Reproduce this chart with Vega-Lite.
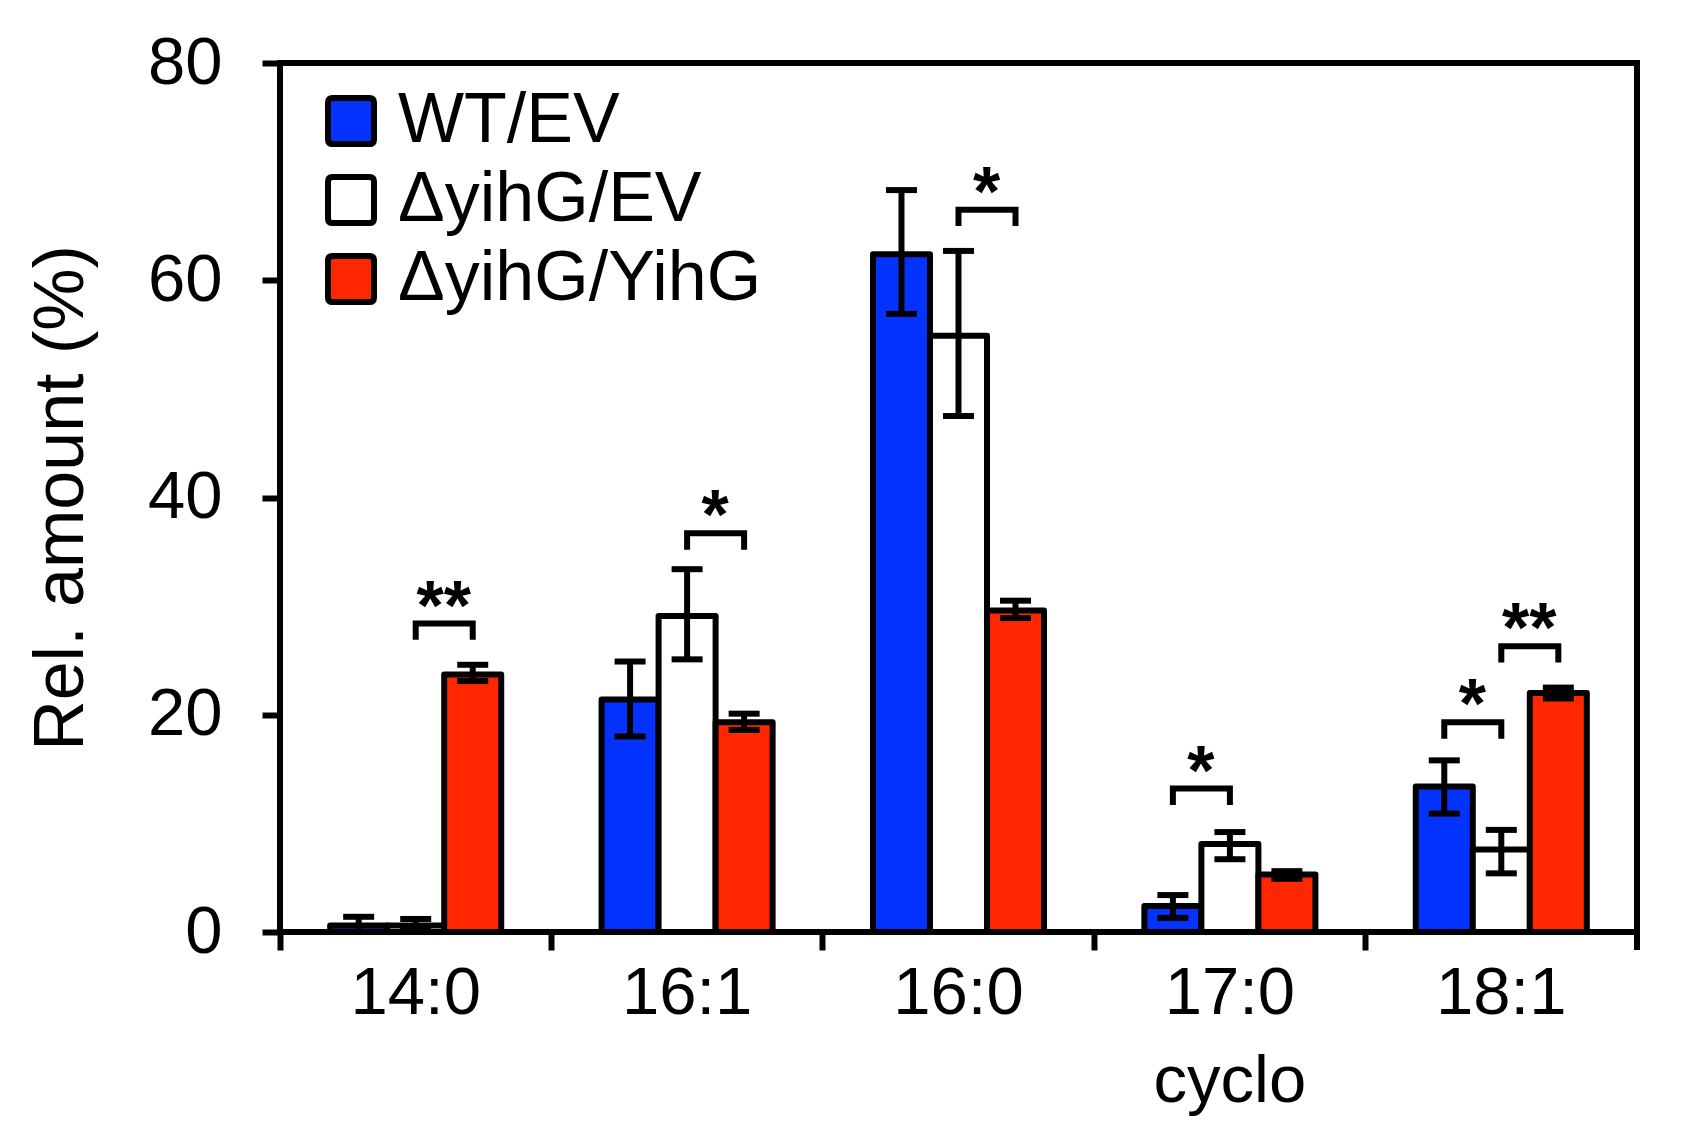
{
  "$schema": "https://vega.github.io/schema/vega-lite/v6.json",
  "width": 1357,
  "height": 869,
  "autosize": {"type": "none"},
  "padding": {"left": 280, "top": 63, "right": 54, "bottom": 211},
  "background": "white",
  "config": {
    "font": "Liberation Sans",
    "view": {"stroke": "black", "strokeWidth": 6},
    "axis": {
      "domain": false,
      "grid": false,
      "tickColor": "black",
      "tickWidth": 6,
      "tickSize": 18,
      "labelColor": "black",
      "labelFont": "Liberation Sans",
      "titleFont": "Liberation Sans",
      "titleColor": "black"
    }
  },
  "datasets": {
    "bars": [
      {"cat": "14:0", "group": "WT/EV", "mean": 0.6, "lo": 0.0, "hi": 1.4},
      {"cat": "14:0", "group": "ΔyihG/EV", "mean": 0.6, "lo": 0.1, "hi": 1.2},
      {"cat": "14:0", "group": "ΔyihG/YihG", "mean": 23.7, "lo": 23.1, "hi": 24.6},
      {"cat": "16:1", "group": "WT/EV", "mean": 21.4, "lo": 18.0, "hi": 24.9},
      {"cat": "16:1", "group": "ΔyihG/EV", "mean": 29.1, "lo": 25.1, "hi": 33.4},
      {"cat": "16:1", "group": "ΔyihG/YihG", "mean": 19.3, "lo": 18.6, "hi": 20.1},
      {"cat": "16:0", "group": "WT/EV", "mean": 62.4, "lo": 56.9, "hi": 68.3},
      {"cat": "16:0", "group": "ΔyihG/EV", "mean": 54.9, "lo": 47.5, "hi": 62.7},
      {"cat": "16:0", "group": "ΔyihG/YihG", "mean": 29.6, "lo": 28.9, "hi": 30.5},
      {"cat": "17:0", "group": "WT/EV", "mean": 2.4, "lo": 1.3, "hi": 3.4},
      {"cat": "17:0", "group": "ΔyihG/EV", "mean": 8.1, "lo": 6.7, "hi": 9.2},
      {"cat": "17:0", "group": "ΔyihG/YihG", "mean": 5.3, "lo": 4.9, "hi": 5.6},
      {"cat": "18:1", "group": "WT/EV", "mean": 13.4, "lo": 10.9, "hi": 15.8},
      {"cat": "18:1", "group": "ΔyihG/EV", "mean": 7.6, "lo": 5.4, "hi": 9.4},
      {"cat": "18:1", "group": "ΔyihG/YihG", "mean": 22.0, "lo": 21.5, "hi": 22.5}
    ],
    "brackets": [
      {"id": "b1", "cat": "14:0", "group": "ΔyihG/EV", "y": 26.9, "ord": 0},
      {"id": "b1", "cat": "14:0", "group": "ΔyihG/EV", "y": 28.4, "ord": 1},
      {"id": "b1", "cat": "14:0", "group": "ΔyihG/YihG", "y": 28.4, "ord": 2},
      {"id": "b1", "cat": "14:0", "group": "ΔyihG/YihG", "y": 26.9, "ord": 3},
      {"id": "b2", "cat": "16:1", "group": "ΔyihG/EV", "y": 35.2, "ord": 0},
      {"id": "b2", "cat": "16:1", "group": "ΔyihG/EV", "y": 36.7, "ord": 1},
      {"id": "b2", "cat": "16:1", "group": "ΔyihG/YihG", "y": 36.7, "ord": 2},
      {"id": "b2", "cat": "16:1", "group": "ΔyihG/YihG", "y": 35.2, "ord": 3},
      {"id": "b3", "cat": "16:0", "group": "ΔyihG/EV", "y": 65.0, "ord": 0},
      {"id": "b3", "cat": "16:0", "group": "ΔyihG/EV", "y": 66.5, "ord": 1},
      {"id": "b3", "cat": "16:0", "group": "ΔyihG/YihG", "y": 66.5, "ord": 2},
      {"id": "b3", "cat": "16:0", "group": "ΔyihG/YihG", "y": 65.0, "ord": 3},
      {"id": "b4", "cat": "17:0", "group": "WT/EV", "y": 11.7, "ord": 0},
      {"id": "b4", "cat": "17:0", "group": "WT/EV", "y": 13.2, "ord": 1},
      {"id": "b4", "cat": "17:0", "group": "ΔyihG/EV", "y": 13.2, "ord": 2},
      {"id": "b4", "cat": "17:0", "group": "ΔyihG/EV", "y": 11.7, "ord": 3},
      {"id": "b5", "cat": "18:1", "group": "WT/EV", "y": 17.8, "ord": 0},
      {"id": "b5", "cat": "18:1", "group": "WT/EV", "y": 19.3, "ord": 1},
      {"id": "b5", "cat": "18:1", "group": "ΔyihG/EV", "y": 19.3, "ord": 2},
      {"id": "b5", "cat": "18:1", "group": "ΔyihG/EV", "y": 17.8, "ord": 3},
      {"id": "b6", "cat": "18:1", "group": "ΔyihG/EV", "y": 24.8, "ord": 0},
      {"id": "b6", "cat": "18:1", "group": "ΔyihG/EV", "y": 26.3, "ord": 1},
      {"id": "b6", "cat": "18:1", "group": "ΔyihG/YihG", "y": 26.3, "ord": 2},
      {"id": "b6", "cat": "18:1", "group": "ΔyihG/YihG", "y": 24.8, "ord": 3}
    ],
    "sig": [
      {"cat": "14:0", "group": "ΔyihG/EV", "y": 28.4, "stars": "**"},
      {"cat": "16:1", "group": "ΔyihG/EV", "y": 36.7, "stars": "*"},
      {"cat": "16:0", "group": "ΔyihG/EV", "y": 66.5, "stars": "*"},
      {"cat": "17:0", "group": "WT/EV", "y": 13.2, "stars": "*"},
      {"cat": "18:1", "group": "WT/EV", "y": 19.3, "stars": "*"},
      {"cat": "18:1", "group": "ΔyihG/EV", "y": 26.3, "stars": "**"}
    ],
    "edge": [
      {"cat": "18:1"}
    ]
  },
  "layer": [
    {
      "data": {"name": "bars"},
      "mark": {"type": "bar", "stroke": "black", "strokeWidth": 6, "strokeJoin": "round"},
      "encoding": {
        "x": {
          "field": "cat", "type": "nominal",
          "scale": {"domain": ["14:0", "16:1", "16:0", "17:0", "18:1"], "paddingInner": 0, "paddingOuter": 0},
          "axis": {
            "title": null,
            "labelAngle": 0,
            "labelFontSize": 67,
            "labelPadding": 10,
            "bandPosition": 0,
            "labelLineHeight": 88,
            "labelExpr": "datum.label == '17:0' ? ['17:0', 'cyclo'] : datum.label"
          }
        },
        "xOffset": {
          "field": "group", "type": "nominal",
          "scale": {"domain": ["WT/EV", "ΔyihG/EV", "ΔyihG/YihG"], "paddingInner": 0, "paddingOuter": 0.88}
        },
        "y": {
          "field": "mean", "type": "quantitative",
          "scale": {"domain": [0, 80], "nice": false},
          "axis": {
            "values": [0, 20, 40, 60, 80],
            "labelFontSize": 67,
            "labelPadding": 40,
            "title": "Rel. amount (%)",
            "titleFontSize": 70,
            "titleFontWeight": "normal",
            "titlePadding": 50
          }
        },
        "fill": {
          "field": "group", "type": "nominal",
          "scale": {"domain": ["WT/EV", "ΔyihG/EV", "ΔyihG/YihG"], "range": ["#0433FF", "#FFFFFF", "#FF2600"]},
          "legend": {
            "title": null,
            "orient": "none",
            "legendX": 36,
            "legendY": 23,
            "padding": 0,
            "symbolType": "M-1,-0.8Q-1,-1,-0.8,-1L0.8,-1Q1,-1,1,-0.8L1,0.8Q1,1,0.8,1L-0.8,1Q-1,1,-1,0.8Z",
            "symbolSize": 2116,
            "symbolStrokeColor": "black",
            "symbolStrokeWidth": 6,
            "symbolOpacity": 1,
            "labelFontSize": 70,
            "labelFont": "Liberation Sans",
            "labelColor": "black",
            "labelOffset": 12,
            "labelLimit": 0,
            "rowPadding": 9
          }
        }
      }
    },
    {
      "data": {"name": "bars"},
      "mark": {"type": "rule", "color": "black", "strokeWidth": 6},
      "encoding": {
        "x": {"field": "cat", "type": "nominal", "scale": {"domain": ["14:0", "16:1", "16:0", "17:0", "18:1"]}},
        "xOffset": {"field": "group", "type": "nominal", "scale": {"domain": ["WT/EV", "ΔyihG/EV", "ΔyihG/YihG"]}},
        "y": {"field": "lo", "type": "quantitative"},
        "y2": {"field": "hi"}
      }
    },
    {
      "data": {"name": "bars"},
      "mark": {"type": "tick", "orient": "horizontal", "color": "black", "size": 31, "thickness": 6, "opacity": 1},
      "encoding": {
        "x": {"field": "cat", "type": "nominal", "scale": {"domain": ["14:0", "16:1", "16:0", "17:0", "18:1"]}},
        "xOffset": {"field": "group", "type": "nominal", "scale": {"domain": ["WT/EV", "ΔyihG/EV", "ΔyihG/YihG"]}},
        "y": {"field": "hi", "type": "quantitative"}
      }
    },
    {
      "data": {"name": "bars"},
      "mark": {"type": "tick", "orient": "horizontal", "color": "black", "size": 31, "thickness": 6, "opacity": 1},
      "encoding": {
        "x": {"field": "cat", "type": "nominal", "scale": {"domain": ["14:0", "16:1", "16:0", "17:0", "18:1"]}},
        "xOffset": {"field": "group", "type": "nominal", "scale": {"domain": ["WT/EV", "ΔyihG/EV", "ΔyihG/YihG"]}},
        "y": {"field": "lo", "type": "quantitative"}
      }
    },
    {
      "data": {"name": "brackets"},
      "mark": {"type": "line", "color": "black", "strokeWidth": 6, "strokeJoin": "miter", "strokeCap": "butt"},
      "encoding": {
        "x": {"field": "cat", "type": "nominal", "scale": {"domain": ["14:0", "16:1", "16:0", "17:0", "18:1"]}},
        "xOffset": {"field": "group", "type": "nominal", "scale": {"domain": ["WT/EV", "ΔyihG/EV", "ΔyihG/YihG"]}},
        "y": {"field": "y", "type": "quantitative"},
        "detail": {"field": "id", "type": "nominal"},
        "order": {"field": "ord", "type": "quantitative"}
      }
    },
    {
      "data": {"name": "sig"},
      "mark": {"type": "text", "color": "black", "font": "Liberation Sans", "fontWeight": "bold", "fontSize": 70, "align": "center", "baseline": "alphabetic", "dx": 28, "dy": 6},
      "encoding": {
        "x": {"field": "cat", "type": "nominal", "scale": {"domain": ["14:0", "16:1", "16:0", "17:0", "18:1"]}},
        "xOffset": {"field": "group", "type": "nominal", "scale": {"domain": ["WT/EV", "ΔyihG/EV", "ΔyihG/YihG"]}},
        "y": {"field": "y", "type": "quantitative"},
        "text": {"field": "stars"}
      }
    },
    {
      "data": {"name": "edge"},
      "mark": {"type": "rule", "color": "black", "strokeWidth": 6, "y2Offset": 18},
      "encoding": {
        "x": {"field": "cat", "type": "nominal", "bandPosition": 1, "scale": {"domain": ["14:0", "16:1", "16:0", "17:0", "18:1"]}},
        "y": {"datum": 0},
        "y2": {"datum": 0}
      }
    }
  ]
}
